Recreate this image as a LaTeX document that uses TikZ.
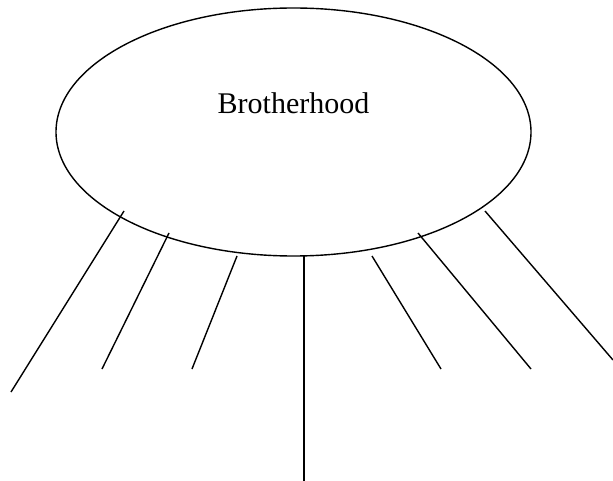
\documentclass[tikz,border=0pt]{standalone}
\usepackage{fontspec}
\setmainfont{Liberation Serif}
\usetikzlibrary{shapes.geometric}
\begin{document}
\begin{tikzpicture}[x=1pt, y=-1pt, line width=1.4pt,
  ring/.style={draw, ellipse, inner sep=0pt, minimum width=475pt, minimum height=248pt},
  spoke/.style={draw, line cap=butt}]
  \useasboundingbox (0,0) rectangle (613,481);
  \node[ring] (ring) at (293.5,132) {};
  \node[anchor=base, font=\fontsize{30}{36}\selectfont] (title) at (293.5,114) {Brotherhood};
  % spokes hanging under the ellipse: top end / bottom end
  \foreach \i/\tx/\ty/\bx/\by in {1/124/211/11/392, 2/169/233/102/369, 3/237/256/192/369,
      4/304/256/304/481, 5/372/256/441/369, 6/418/233/531/369, 7/485/211/613/360} {
    \coordinate (top\i) at (\tx,\ty);
    \coordinate (foot\i) at (\bx,\by);
    \draw[spoke] (top\i) -- (foot\i);
  }
\end{tikzpicture}
\end{document}
